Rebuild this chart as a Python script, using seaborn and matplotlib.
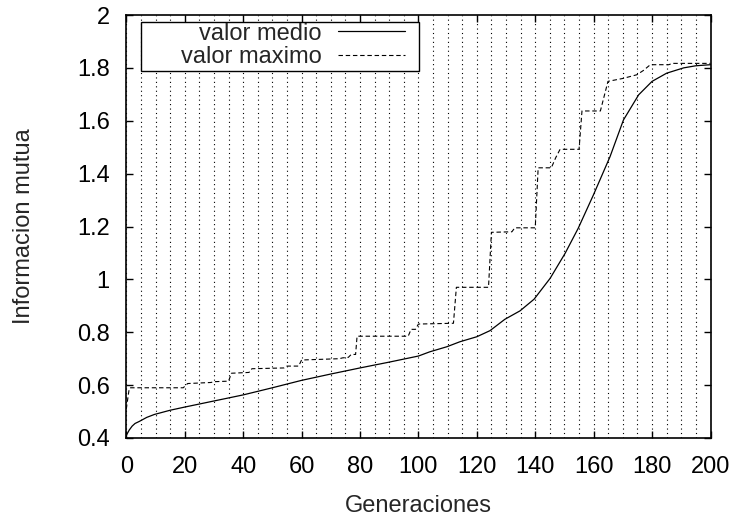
import numpy as np
import pandas as pd
import matplotlib
matplotlib.use("Agg")
import matplotlib.pyplot as plt
from matplotlib.patches import Rectangle
import seaborn as sns

# ---- data ----
mean_gen = [0, 1, 2, 3, 4.5, 7, 9.6, 15, 20, 30, 40, 50, 60, 70, 80, 90, 100,
            103.9, 109.7, 114.2, 120, 124.5, 129.6, 134.8, 139.6, 145.1, 150.2,
            154.7, 159.9, 165.6, 170.2, 175.4, 180, 185, 190.8, 195, 200]
mean_vals = [0.41, 0.43, 0.445, 0.455, 0.463, 0.478, 0.489, 0.505, 0.517, 0.540,
             0.563, 0.590, 0.618, 0.642, 0.665, 0.687, 0.710,
             0.726, 0.745, 0.764, 0.783, 0.806, 0.849, 0.881, 0.925, 1.004,
             1.098, 1.193, 1.319, 1.464, 1.603, 1.698, 1.749, 1.780,
             1.800, 1.808, 1.812]

max_gen = [0, 1, 1.5, 19.5, 21, 29, 30, 35, 36, 42, 43, 54, 55, 59, 60, 73, 74,
           76, 77, 78.5, 79, 96.5, 97.5, 99, 100, 112, 113, 124, 125, 132, 133,
           140, 141, 145.5, 147, 148.5, 155, 156, 162.3, 164.9, 170, 174.8, 177,
           179.4, 185.7, 187, 200]
max_vals = [0.51, 0.587, 0.59, 0.59, 0.606, 0.61, 0.613, 0.615, 0.645, 0.648,
            0.662, 0.665, 0.672, 0.672, 0.695, 0.70, 0.703, 0.705, 0.716, 0.716,
            0.785, 0.785, 0.811, 0.811, 0.831, 0.834, 0.970, 0.970, 1.178, 1.18,
            1.195, 1.195, 1.422, 1.422, 1.46, 1.492, 1.492, 1.637, 1.637, 1.749,
            1.76, 1.774, 1.79, 1.812, 1.812, 1.817, 1.817]

x_ticks = [0, 20, 40, 60, 80, 100, 120, 140, 160, 180, 200]
y_ticks = [0.4, 0.6, 0.8, 1.0, 1.2, 1.4, 1.6, 1.8, 2.0]
y_tick_labels = ["0.4", "0.6", "0.8", "1", "1.2", "1.4", "1.6", "1.8", "2"]
labels = ["valor medio", "valor maximo"]

# ---- style ----
sns.set_style("ticks")
plt.rcParams["font.family"] = ["Liberation Sans", "DejaVu Sans"]
FS = 17
plt.rcParams["font.size"] = FS

fig = plt.figure(figsize=(7.36, 5.19), dpi=100)
W, H = 736, 519
L, R, T, B = 126.3, 710.5, 15.0, 438.0
ax = fig.add_axes([L / W, (H - B) / H, (R - L) / W, (B - T) / H])

df_mean = pd.DataFrame({"gen": mean_gen, "val": mean_vals})
df_max = pd.DataFrame({"gen": max_gen, "val": max_vals})

sns.lineplot(data=df_mean, x="gen", y="val", ax=ax, color="black", lw=0.9,
             label=labels[0], zorder=4)
sns.lineplot(data=df_max, x="gen", y="val", ax=ax, color="black", lw=0.8,
             label=labels[1], zorder=4, linestyle=(0, (4, 2.5)))

ax.set_xlim(0, 200)
ax.set_ylim(0.4, 2.0)
ax.set_xticks(x_ticks)
ax.set_xticks(np.arange(5, 200, 5), minor=True)
ax.set_yticks(y_ticks)
ax.set_yticklabels(y_tick_labels)
ax.grid(True, axis="x", which="both", color="black", lw=0.8,
        linestyle=(0, (1, 3)), zorder=1)
ax.tick_params(axis="both", which="major", direction="in", length=5, width=1,
               top=True, right=True, labelsize=FS, colors="black")
ax.tick_params(axis="y", which="major", pad=12)
ax.tick_params(axis="x", which="major", pad=13)
ax.tick_params(axis="x", which="minor", length=0)
for s in ax.spines.values():
    s.set_linewidth(1.2)
    s.set_color("black")
    s.set_zorder(6)

ax.set_xlabel("Generaciones", fontsize=FS, labelpad=12)
ax.set_ylabel("Informacion mutua", fontsize=FS, labelpad=30)

# legend box (gnuplot-like key)
box = Rectangle((0.025, 0.867), 0.476, 0.116, transform=ax.transAxes,
                facecolor="white", edgecolor="black", lw=1.0, zorder=3)
ax.add_patch(box)
leg = ax.legend(loc="upper right", bbox_to_anchor=(0.477, 0.982),
                frameon=False, markerfirst=False, handlelength=2.84,
                handletextpad=0.68, labelspacing=0.05, borderpad=0,
                borderaxespad=0, fontsize=FS)
leg.set_zorder(5)

fig.savefig("out.png", dpi=100)
